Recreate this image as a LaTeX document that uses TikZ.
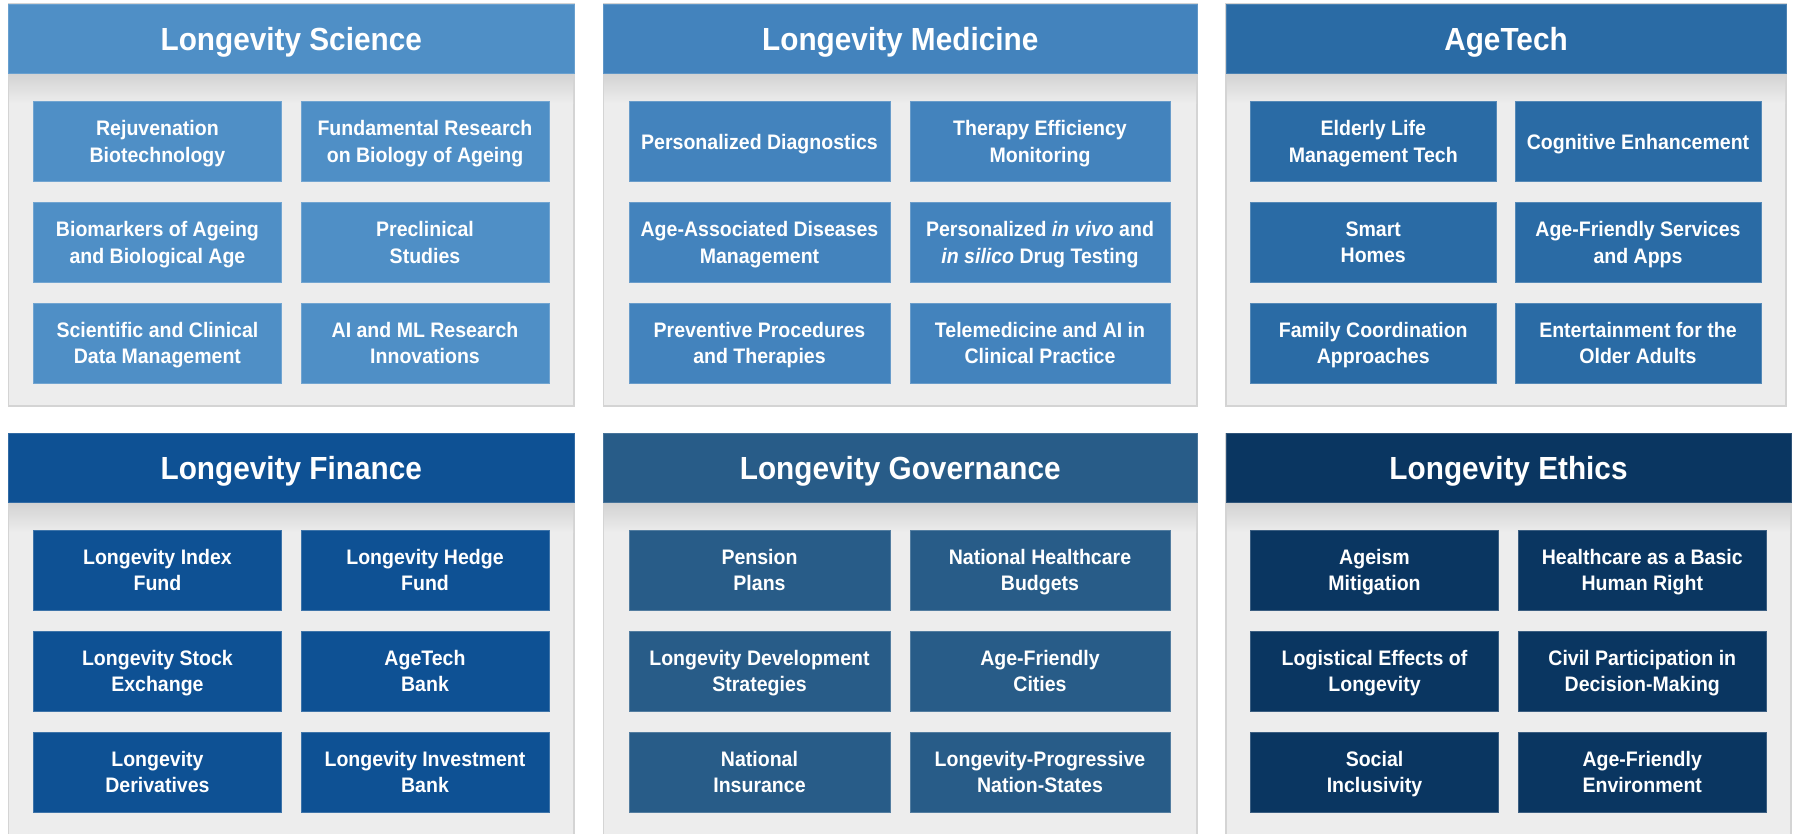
\documentclass[tikz,border=0pt]{standalone}
\usepackage{fontspec}
\setmainfont{Liberation Sans}[FakeStretch=0.93]
\definecolor{cSci}{HTML}{4F8FC6}
\definecolor{cMed}{HTML}{4383BD}
\definecolor{cAge}{HTML}{2A6BA5}
\definecolor{cFin}{HTML}{0E5194}
\definecolor{cGov}{HTML}{285C88}
\definecolor{cEth}{HTML}{0A3661}
\definecolor{panelbg}{HTML}{EDEDED}
\definecolor{panelline}{HTML}{D4D4D4}
\definecolor{shadowtop}{HTML}{D2D2D2}
\tikzset{
  panelbox/.style={rectangle, draw=panelline, fill=panelbg, line width=1.5pt, inner sep=0pt, outer sep=0pt},
  headbox/.style={rectangle, inner sep=0pt, outer sep=0pt, line width=0.8pt, text=white,
    text depth=0pt, font=\bfseries\fontsize{32}{37}\selectfont},
  itembox/.style={rectangle, inner sep=0pt, outer sep=0pt, line width=0.8pt, text=white, align=center,
    text depth=0pt, font=\bfseries\fontsize{21}{26.3}\selectfont},
  headshadow/.style={top color=shadowtop, bottom color=panelbg},
}
% #1 name, #2 x0, #3 x1, #4 top, #5 header bottom, #6 bottom, #7 colour, #8 title
\newcommand{\mkpanel}[8]{%
  \node[panelbox, minimum width={#3-#2}, minimum height={#6-#4}] (#1) at ({(#2+#3)/2},{(#4+#6)/2}) {};
  \shade[headshadow] ({#2+1},{#5}) rectangle ({#3-1},{#5+30});
  \node[headbox, fill=#7, draw=#7!85!white, minimum width={#3-#2}, minimum height={#5-#4}] (#1h) at ({(#2+#3)/2},{(#4+#5)/2}) {#8};
}
% #1 name, #2 x0, #3 x1, #4 y0, #5 y1, #6 colour, #7 text
\newcommand{\mkitem}[7]{%
  \node[itembox, fill=#6, draw=#6!80!white, minimum width={#3-#2}, minimum height={#5-#4}] (#1) at ({(#2+#3)/2},{(#4+#5)/2}) {#7};
}
\begin{document}
\begin{tikzpicture}[x=1pt, y=-1pt]
\useasboundingbox[fill=white] (0,0) rectangle (1795,833);
\clip (0,0) rectangle (1795,833);
% ---------- Row 1 ----------
\mkpanel{sci}{8.5}{574}{4}{73}{406}{cSci}{Longevity Science}
\mkitem{sci1}{33.3}{281.6}{101.5}{181.5}{cSci}{Rejuvenation\\Biotechnology}
\mkitem{sci2}{301}{549}{101.5}{181.5}{cSci}{Fundamental Research\\on Biology of Ageing}
\mkitem{sci3}{33.3}{281.6}{202.5}{282.5}{cSci}{Biomarkers of Ageing\\and Biological Age}
\mkitem{sci4}{301}{549}{202.5}{282.5}{cSci}{Preclinical\\Studies}
\mkitem{sci5}{33.3}{281.6}{303}{383}{cSci}{Scientific and Clinical\\Data Management}
\mkitem{sci6}{301}{549}{303}{383}{cSci}{AI and ML Research\\Innovations}

\mkpanel{med}{603.5}{1197}{4}{73}{406}{cMed}{Longevity Medicine}
\mkitem{med1}{629}{890}{101.5}{181.5}{cMed}{Personalized Diagnostics}
\mkitem{med2}{910}{1170}{101.5}{181.5}{cMed}{Therapy Efficiency\\Monitoring}
\mkitem{med3}{629}{890}{202.5}{282.5}{cMed}{Age-Associated Diseases\\Management}
\mkitem{med4}{910}{1170}{202.5}{282.5}{cMed}{Personalized \textit{in vivo} and\\\textit{in silico} Drug Testing}
\mkitem{med5}{629}{890}{303}{383}{cMed}{Preventive Procedures\\and Therapies}
\mkitem{med6}{910}{1170}{303}{383}{cMed}{Telemedicine and AI in\\Clinical Practice}

\mkpanel{age}{1226}{1786}{4}{73}{406}{cAge}{AgeTech}
\mkitem{age1}{1250.5}{1496}{101.5}{181.5}{cAge}{Elderly Life\\Management Tech}
\mkitem{age2}{1515}{1761}{101.5}{181.5}{cAge}{Cognitive Enhancement}
\mkitem{age3}{1250.5}{1496}{202.5}{282.5}{cAge}{Smart\\Homes}
\mkitem{age4}{1515}{1761}{202.5}{282.5}{cAge}{Age-Friendly Services\\and Apps}
\mkitem{age5}{1250.5}{1496}{303}{383}{cAge}{Family Coordination\\Approaches}
\mkitem{age6}{1515}{1761}{303}{383}{cAge}{Entertainment for the\\Older Adults}
% ---------- Row 2 ----------
\mkpanel{fin}{8.5}{574}{433.5}{502.5}{860}{cFin}{Longevity Finance}
\mkitem{fin1}{33.3}{281.6}{530}{610}{cFin}{Longevity Index\\Fund}
\mkitem{fin2}{301}{549}{530}{610}{cFin}{Longevity Hedge\\Fund}
\mkitem{fin3}{33.3}{281.6}{631}{711}{cFin}{Longevity Stock\\Exchange}
\mkitem{fin4}{301}{549}{631}{711}{cFin}{AgeTech\\Bank}
\mkitem{fin5}{33.3}{281.6}{732}{812}{cFin}{Longevity\\Derivatives}
\mkitem{fin6}{301}{549}{732}{812}{cFin}{Longevity Investment\\Bank}

\mkpanel{gov}{603.5}{1197}{433.5}{502.5}{860}{cGov}{Longevity Governance}
\mkitem{gov1}{629}{890}{530}{610}{cGov}{Pension\\Plans}
\mkitem{gov2}{910}{1170}{530}{610}{cGov}{National Healthcare\\Budgets}
\mkitem{gov3}{629}{890}{631}{711}{cGov}{Longevity Development\\Strategies}
\mkitem{gov4}{910}{1170}{631}{711}{cGov}{Age-Friendly\\Cities}
\mkitem{gov5}{629}{890}{732}{812}{cGov}{National\\Insurance}
\mkitem{gov6}{910}{1170}{732}{812}{cGov}{Longevity-Progressive\\Nation-States}

\mkpanel{eth}{1226}{1791}{433.5}{502.5}{860}{cEth}{Longevity Ethics}
\mkitem{eth1}{1250.5}{1498.5}{530}{610}{cEth}{Ageism\\Mitigation}
\mkitem{eth2}{1518}{1766.5}{530}{610}{cEth}{Healthcare as a Basic\\Human Right}
\mkitem{eth3}{1250.5}{1498.5}{631}{711}{cEth}{Logistical Effects of\\Longevity}
\mkitem{eth4}{1518}{1766.5}{631}{711}{cEth}{Civil Participation in\\Decision-Making}
\mkitem{eth5}{1250.5}{1498.5}{732}{812}{cEth}{Social\\Inclusivity}
\mkitem{eth6}{1518}{1766.5}{732}{812}{cEth}{Age-Friendly\\Environment}
\end{tikzpicture}
\end{document}
